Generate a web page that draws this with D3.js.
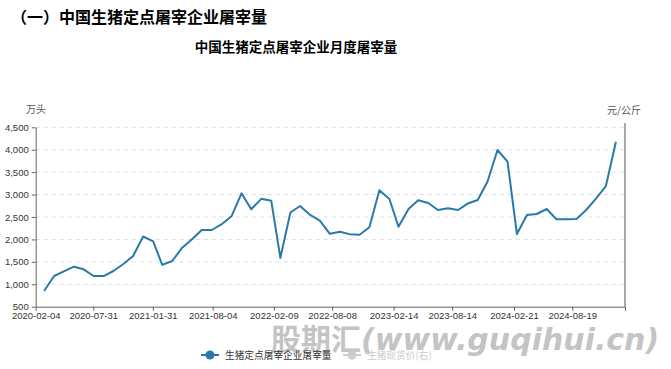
<!DOCTYPE html>
<html>
<head>
<meta charset="utf-8">
<script src="https://cdn.jsdelivr.net/npm/d3@7/dist/d3.min.js"></script>
<style>
  html, body { margin: 0; padding: 0; background: #fff; }
  svg { display: block; font-family: "Liberation Sans", Arial, sans-serif; }
  .cjk { font-family: "Noto Sans CJK SC", sans-serif; }
</style>
</head>
<body>
<svg id="chart" width="671" height="369"></svg>
<script>
// ---- data ----
const months = [
  "2020-02","2020-03","2020-04","2020-05","2020-06","2020-07","2020-08","2020-09","2020-10","2020-11","2020-12",
  "2021-01","2021-02","2021-03","2021-04","2021-05","2021-06","2021-07","2021-08","2021-09","2021-10","2021-11","2021-12",
  "2022-01","2022-02","2022-03","2022-04","2022-05","2022-06","2022-07","2022-08","2022-09","2022-10","2022-11","2022-12",
  "2023-01","2023-02","2023-03","2023-04","2023-05","2023-06","2023-07","2023-08","2023-09","2023-10","2023-11","2023-12",
  "2024-01","2024-02","2024-03","2024-04","2024-05","2024-06","2024-07","2024-08","2024-09","2024-10","2024-11","2024-12"
];
// 万头
const slaughter = [
  850, 1184, 1289, 1392, 1334, 1184, 1184, 1296, 1452, 1630, 2065,
  1957, 1433, 1519, 1810, 2003, 2210, 2210, 2340, 2515, 3028, 2672, 2905,
  2860, 1588, 2600, 2745, 2545, 2418, 2125, 2172, 2118, 2105, 2270, 3095,
  2901, 2284, 2678, 2872, 2812, 2656, 2694, 2656, 2800, 2879, 3287, 3994,
  3733, 2121, 2545, 2567, 2678, 2449, 2449, 2456, 2656, 2917, 3191, 4179
];
const xTickLabels = ["2020-02-04","2020-07-31","2021-01-31","2021-08-04","2022-02-09",
                     "2022-08-08","2023-02-14","2023-08-14","2024-02-21","2024-08-19"];
const yTicks = [500, 1000, 1500, 2000, 2500, 3000, 3500, 4000, 4500];

const lineColor = "#2a7aa8";
const parseDay = d3.timeParse("%Y-%m-%d");
const parseMonth = d3.timeParse("%Y-%m");

// monthly figure is placed at the start of the following month (release date)
const points = months.map((m, i) => ({ date: d3.timeMonth.offset(parseMonth(m), 1), value: slaughter[i] }));

const svg = d3.select("#chart");
const plotL = 35.7, plotR = 625, plotT = 127.3, plotB = 306.7;

const x = d3.scaleTime()
    .domain([parseDay("2020-02-04"), parseDay("2025-01-29")])
    .range([plotL, plotR]);
const y = d3.scaleLinear().domain([500, 4500]).range([plotB, plotT]);

// titles
svg.append("text").attr("class", "cjk")
    .attr("x", 11).attr("y", 23)
    .attr("font-size", 16).attr("font-weight", "bold").attr("fill", "#000")
    .text("（一）中国生猪定点屠宰企业屠宰量");
svg.append("text").attr("class", "cjk")
    .attr("x", 296).attr("y", 52).attr("text-anchor", "middle")
    .attr("font-size", 13.5).attr("font-weight", "bold").attr("fill", "#000")
    .text("中国生猪定点屠宰企业月度屠宰量");

// axis names
svg.append("text").attr("class", "cjk")
    .attr("x", 36).attr("y", 113).attr("text-anchor", "middle")
    .attr("font-size", 10).attr("fill", "#555").text("万头");
svg.append("text").attr("class", "cjk")
    .attr("x", 624).attr("y", 114).attr("text-anchor", "middle")
    .attr("font-size", 10).attr("fill", "#555").text("元/公斤");

// grid
svg.append("g")
    .selectAll("line")
    .data(yTicks.filter(v => v > 500))
    .join("line")
    .attr("x1", plotL).attr("x2", plotR)
    .attr("y1", d => y(d)).attr("y2", d => y(d))
    .attr("stroke", "#dcdcdc").attr("stroke-width", 1)
    .attr("stroke-dasharray", "4,4");

// left axis
const yAxis = svg.append("g")
    .attr("transform", `translate(${plotL},0)`)
    .call(d3.axisLeft(y).tickValues(yTicks).tickFormat(d3.format(",")).tickSize(4).tickSizeOuter(0));
yAxis.select(".domain").attr("stroke", "#666");
yAxis.selectAll(".tick line").attr("stroke", "#666");
yAxis.selectAll(".tick text").attr("fill", "#333").attr("font-size", 9.5)
    .attr("font-family", "Liberation Sans, Arial, sans-serif");

// right axis (price series hidden, so no labels)
svg.append("line")
    .attr("x1", plotR).attr("x2", plotR)
    .attr("y1", 123).attr("y2", plotB)
    .attr("stroke", "#555").attr("stroke-width", 1);

// bottom axis
const xAxis = svg.append("g")
    .attr("transform", `translate(0,${plotB})`)
    .call(d3.axisBottom(x)
        .tickValues(xTickLabels.map(parseDay).concat([x.domain()[1]]))
        .tickFormat((d, i) => i < xTickLabels.length ? xTickLabels[i] : "")
        .tickSize(4).tickSizeOuter(0));
xAxis.select(".domain").attr("stroke", "#666");
xAxis.selectAll(".tick line").attr("stroke", "#666");
xAxis.selectAll(".tick text").attr("fill", "#333").attr("font-size", 9.5)
    .attr("dy", "0.6em")
    .attr("font-family", "Liberation Sans, Arial, sans-serif");

// series line
svg.append("path")
    .datum(points)
    .attr("fill", "none")
    .attr("stroke", lineColor)
    .attr("stroke-width", 2)
    .attr("stroke-linejoin", "round")
    .attr("d", d3.line().x(d => x(d.date)).y(d => y(d.value)));

// watermark
svg.append("text")
    .attr("x", 271).attr("y", 350)
    .attr("font-size", 30).attr("font-weight", "bold")
    .attr("fill", "#b4b4b4").attr("fill-opacity", 0.8)
    .attr("font-family", "Noto Sans CJK SC, sans-serif")
    .call(t => {
        t.append("tspan").text("股期汇");
        t.append("tspan").attr("font-style", "italic")
            .attr("font-family", "DejaVu Sans, sans-serif").text("(www.guqihui.cn)");
    });

// legend
const legend = [
  { name: "生猪定点屠宰企业屠宰量", color: lineColor, text: "#333", x: 201 },
  { name: "生猪现货价(右)", color: "#ccc", text: "#ccc", x: 343 }
];
const lg = svg.append("g").selectAll("g").data(legend).join("g")
    .attr("transform", d => `translate(${d.x},355)`);
lg.append("line").attr("x1", 0).attr("x2", 18).attr("y1", 0).attr("y2", 0)
    .attr("stroke", d => d.color).attr("stroke-width", 2);
lg.append("circle").attr("cx", 9).attr("r", 4.5).attr("fill", d => d.color);
lg.append("text").attr("class", "cjk")
    .attr("x", 24).attr("y", 3.5)
    .attr("font-size", 9.7).attr("fill", d => d.text)
    .text(d => d.name);
</script>
</body>
</html>
